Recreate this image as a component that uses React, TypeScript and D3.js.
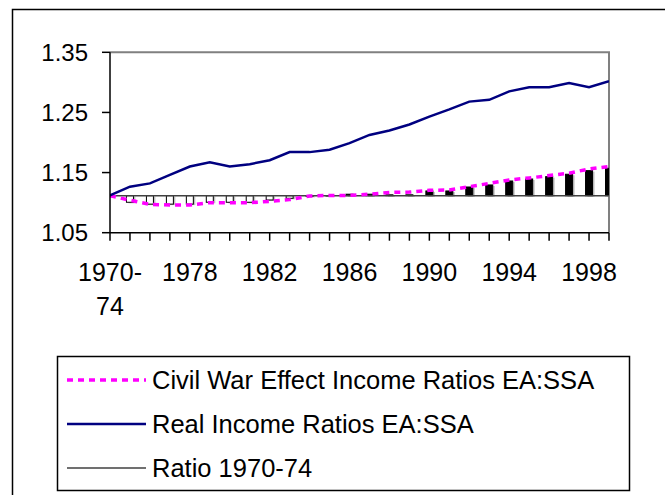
import React, { useEffect, useRef } from "react";
import * as d3 from "d3";

const categories = [
  "1970-74", "1975", "1976", "1977", "1978", "1979", "1980", "1981", "1982",
  "1983", "1984", "1985", "1986", "1987", "1988", "1989", "1990", "1991",
  "1992", "1993", "1994", "1995", "1996", "1997", "1998", "1999",
];

const realIncome = [
  1.112, 1.1265, 1.132, 1.146, 1.16, 1.167, 1.16, 1.164, 1.1705, 1.184, 1.184,
  1.188, 1.199, 1.2126, 1.22, 1.23, 1.243, 1.255, 1.268, 1.271, 1.285, 1.292,
  1.292, 1.299, 1.292, 1.302,
];

const civilWar = [
  1.1116, 1.104, 1.097, 1.096, 1.096, 1.1, 1.1, 1.1, 1.102, 1.105, 1.111, 1.112,
  1.112, 1.114, 1.117, 1.1175, 1.1205, 1.121, 1.1266, 1.132, 1.1377, 1.141,
  1.145, 1.149, 1.156, 1.16,
];

const barValues = [
  1.1116, 1.1006, 1.0975, 1.0975, 1.0975, 1.1006, 1.1006, 1.1006, 1.1044,
  1.1072, 1.1105, 1.111, 1.114, 1.114, 1.113, 1.113, 1.1194, 1.1194, 1.126,
  1.1294, 1.136, 1.1393, 1.1432, 1.1472, 1.1532, 1.1571,
];

const baseRatio = 1.1116;
const yTicks = [1.05, 1.15, 1.25, 1.35];

const legendItems = [
  { label: "Civil War Effect Income Ratios EA:SSA", color: "#ff00ff", width: 3.5, dash: "6,5" },
  { label: "Real Income Ratios EA:SSA", color: "#000080", width: 2.5, dash: null },
  { label: "Ratio 1970-74", color: "#404040", width: 1.5, dash: null },
];

const App: React.FC = () => {
  const svgRef = useRef<SVGSVGElement | null>(null);

  useEffect(() => {
    const W = 665;
    const H = 495;
    const left = 110, right = 609, top = 52.3, bottom = 232.7;
    const font = "'Liberation Sans', Arial, sans-serif";

    const svg = d3.select(svgRef.current);
    svg.selectAll("*").remove();
    svg.attr("width", W).attr("height", H);

    svg.append("rect").attr("width", W).attr("height", H).attr("fill", "#fff");

    // outer frame (runs off the right and bottom edge)
    svg.append("rect")
      .attr("x", 12.5).attr("y", 9.5)
      .attr("width", 700).attr("height", 520)
      .attr("fill", "none").attr("stroke", "#000").attr("stroke-width", 1.5);

    const x = d3.scalePoint<string>().domain(categories).range([left, right]);
    const y = d3.scaleLinear().domain([1.05, 1.35]).range([bottom, top]);

    svg.append("clipPath").attr("id", "plot-clip")
      .append("rect").attr("x", left).attr("y", top)
      .attr("width", right - left).attr("height", bottom - top);

    // plot frame, gray top/right
    svg.append("path")
      .attr("d", `M${left},${top}H${right}V${bottom}`)
      .attr("fill", "none").attr("stroke", "#808080").attr("stroke-width", 2);

    const plot = svg.append("g").attr("clip-path", "url(#plot-clip)");

    // bars from the 1970-74 ratio
    const bw = 7;
    const bars = barValues.map((v, i) => ({ v, c: categories[i] })).filter((d) => Math.abs(d.v - baseRatio) > 0.0005);
    plot.selectAll("rect.shadow")
      .data(bars)
      .join("rect")
      .attr("class", "shadow")
      .attr("x", (d) => x(d.c)! - bw / 2 + 2)
      .attr("y", (d) => Math.min(y(d.v), y(baseRatio)) + 1)
      .attr("width", bw)
      .attr("height", (d) => Math.abs(y(d.v) - y(baseRatio)))
      .attr("fill", "#c0c0c0");
    plot.selectAll("rect.bar")
      .data(bars)
      .join("rect")
      .attr("class", "bar")
      .attr("x", (d) => x(d.c)! - bw / 2)
      .attr("y", (d) => Math.min(y(d.v), y(baseRatio)))
      .attr("width", bw)
      .attr("height", (d) => Math.abs(y(d.v) - y(baseRatio)))
      .attr("fill", (d) => (d.v < baseRatio ? "#fff" : "#000"))
      .attr("stroke", "#000")
      .attr("stroke-width", 1);

    // ratio line
    plot.append("line")
      .attr("x1", left).attr("x2", right)
      .attr("y1", y(baseRatio)).attr("y2", y(baseRatio))
      .attr("stroke", "#404040").attr("stroke-width", 1.5);

    const line = d3.line<number>().x((_, i) => x(categories[i])!).y((d) => y(d));

    plot.append("path")
      .attr("d", line(civilWar))
      .attr("fill", "none").attr("stroke", "#ff00ff")
      .attr("stroke-width", 3.5).attr("stroke-dasharray", "6,5");

    plot.append("path")
      .attr("d", line(realIncome))
      .attr("fill", "none").attr("stroke", "#000080").attr("stroke-width", 2.5);

    // y axis
    svg.append("line")
      .attr("x1", left).attr("x2", left).attr("y1", top).attr("y2", bottom)
      .attr("stroke", "#000").attr("stroke-width", 1.5);
    yTicks.forEach((t) => {
      svg.append("line")
        .attr("x1", left - 8).attr("x2", left).attr("y1", y(t)).attr("y2", y(t))
        .attr("stroke", "#000").attr("stroke-width", 1.5);
      svg.append("text")
        .attr("x", 88).attr("y", y(t)).attr("dy", "0.36em")
        .attr("text-anchor", "end")
        .attr("font-family", font).attr("font-size", 24)
        .text(t.toFixed(2));
    });

    // x axis
    svg.append("line")
      .attr("x1", left).attr("x2", right).attr("y1", bottom).attr("y2", bottom)
      .attr("stroke", "#000").attr("stroke-width", 1.5);
    categories.forEach((c, i) => {
      svg.append("line")
        .attr("x1", x(c)!).attr("x2", x(c)!).attr("y1", bottom).attr("y2", bottom + 8)
        .attr("stroke", "#000").attr("stroke-width", 1.5);
      if (i % 4 !== 0) return;
      const lines = c.includes("-") ? [c.split("-")[0] + "-", c.split("-")[1]] : [c];
      const txt = svg.append("text")
        .attr("text-anchor", "middle")
        .attr("font-family", font).attr("font-size", 25);
      lines.forEach((l, k) => {
        txt.append("tspan").attr("x", x(c)!).attr("y", 281 + k * 34).text(l);
      });
    });

    // legend
    const lg = svg.append("g");
    lg.append("rect")
      .attr("x", 57.5).attr("y", 356.5).attr("width", 572).attr("height", 134)
      .attr("fill", "#fff").attr("stroke", "#000").attr("stroke-width", 1.5);
    legendItems.forEach((d, i) => {
      const cy = 380 + i * 44;
      lg.append("line")
        .attr("x1", 67).attr("x2", 146).attr("y1", cy).attr("y2", cy)
        .attr("stroke", d.color).attr("stroke-width", d.width)
        .attr("stroke-dasharray", d.dash);
      lg.append("text")
        .attr("x", 152).attr("y", cy).attr("dy", "0.36em")
        .attr("font-family", font).attr("font-size", 25.5)
        .text(d.label);
    });
  }, []);

  return (
    <div style={{ position: "absolute", left: 0, top: 0 }}>
      <svg ref={svgRef}></svg>
    </div>
  );
};

export default App;
